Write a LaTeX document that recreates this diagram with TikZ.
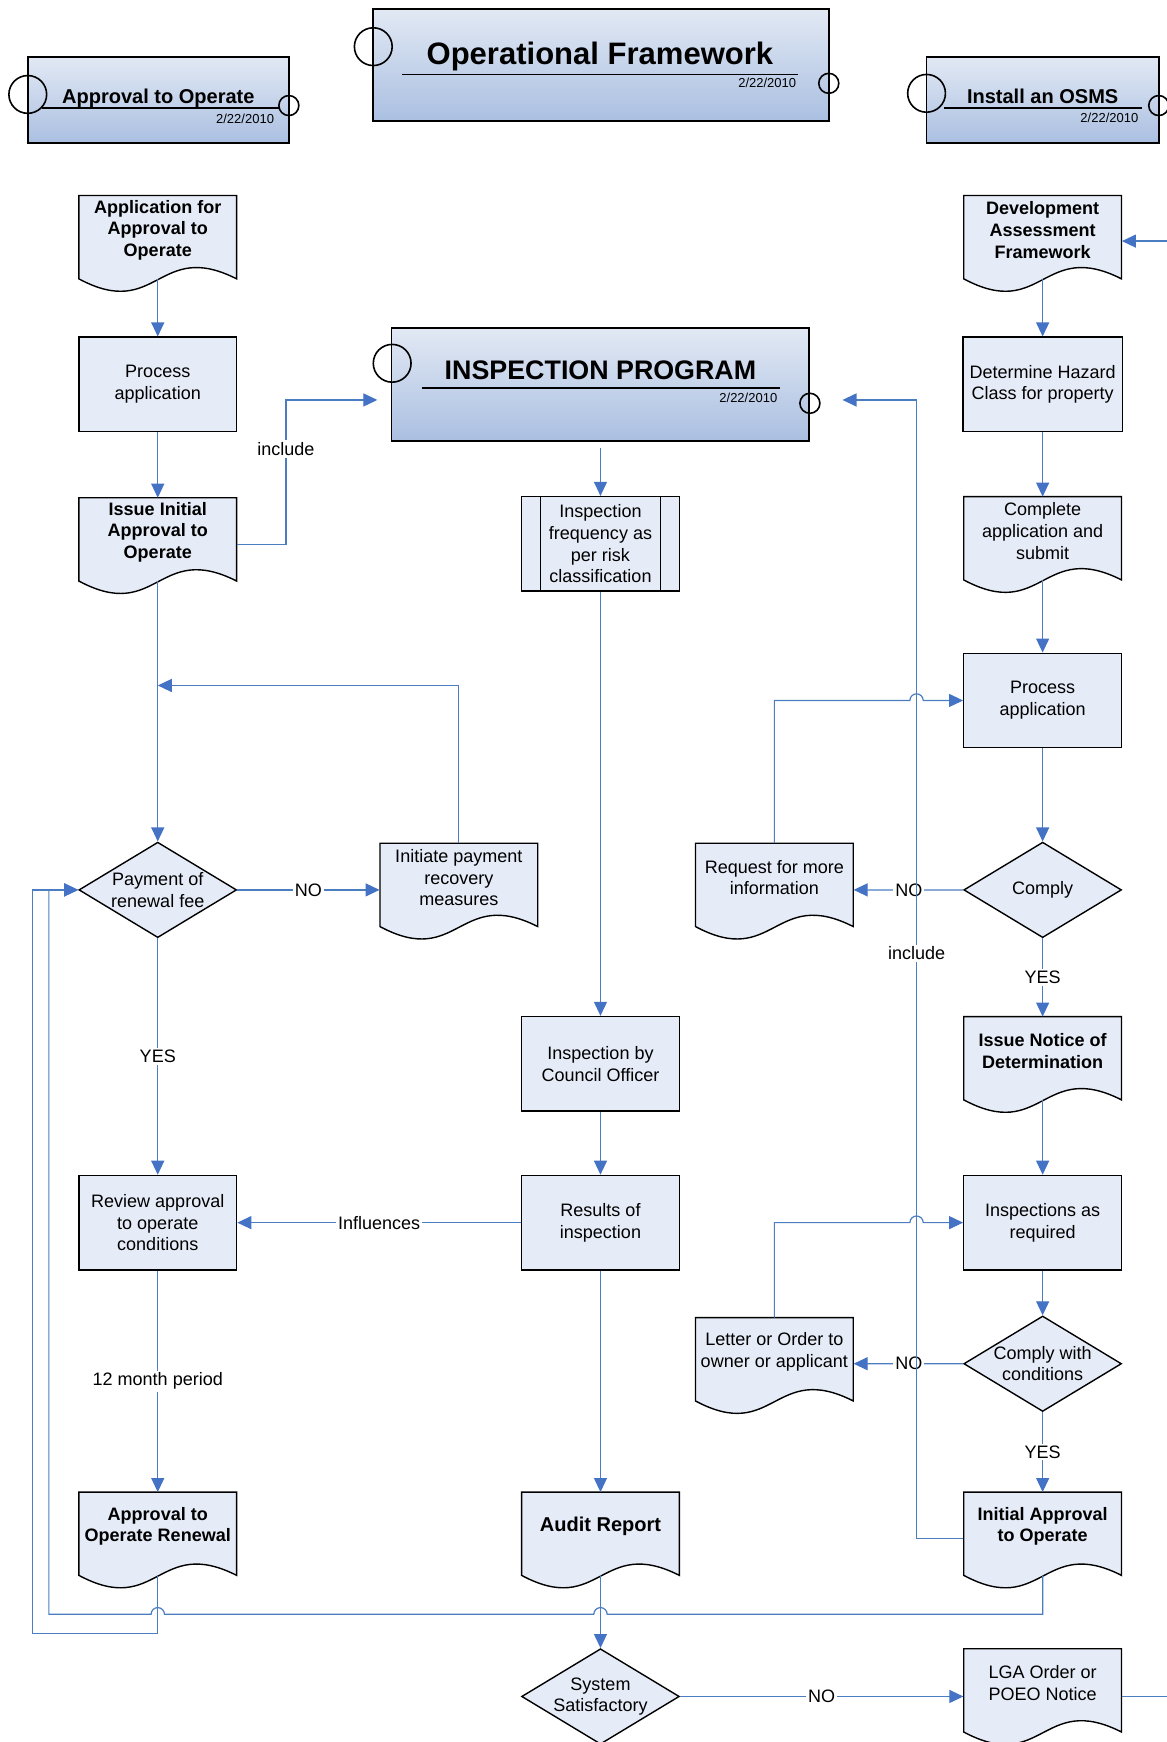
\documentclass[tikz,border=0pt]{standalone}
\usepackage{fontspec}
\setmainfont{Liberation Sans}
\usetikzlibrary{calc,arrows.meta,shapes.geometric}

\definecolor{flowblue}{RGB}{74,126,193}
\definecolor{tipblue}{RGB}{68,114,196}
\definecolor{boxfill}{RGB}{230,236,247}
\definecolor{hdrtop}{RGB}{226,233,244}
\definecolor{hdrbot}{RGB}{170,191,225}

% document shape: wavy bottom, text node on top
\newcommand{\docnode}[4][]{%
	\filldraw[doc_line] ($#3+(-71,-31)$) -- ($#3+(71,-31)$) -- ($#3+(71,44)$)
		.. controls ($#3+(0,8)$) and ($#3+(0,82)$) .. ($#3+(-71,44)$) -- cycle;
	\node[doc_text,#1] (#2) at #3 {#4};
	\coordinate (#2-t) at ($#3+(0,-31)$);
	\coordinate (#2-w) at ($#3+(0,44)$);
}

\begin{document}
\begin{tikzpicture}[x=0.555pt, y=-0.555pt,
	proc_box/.style={rectangle, draw=black, line width=0.7pt, fill=boxfill, minimum width=78.8pt, minimum height=47.2pt, align=center, font=\fontsize{9}{10.8}\selectfont},
	pre_box/.style={proc_box, path picture={
		\draw[line width=0.7pt] ([xshift=9.4pt]path picture bounding box.north west) -- ([xshift=9.4pt]path picture bounding box.south west);
		\draw[line width=0.7pt] ([xshift=-9.4pt]path picture bounding box.north east) -- ([xshift=-9.4pt]path picture bounding box.south east);}},
	doc_line/.style={draw=black, line width=0.7pt, fill=boxfill},
	doc_text/.style={rectangle, minimum width=78.8pt, inner sep=1pt, align=center, font=\fontsize{9}{10.8}\selectfont},
	doc_bold/.style={font=\fontsize{9}{10.8}\selectfont\bfseries},
	doc_big/.style={font=\fontsize{10}{12}\selectfont\bfseries},
	decision_node/.style={diamond, draw=black, line width=0.7pt, fill=boxfill, minimum width=78.8pt, minimum height=47.7pt, inner sep=0pt},
	dec_text/.style={align=center, inner sep=0pt, font=\fontsize{9}{10.8}\selectfont},
	hdr_box/.style={rectangle, draw=black, line width=0.9pt, top color=hdrtop, bottom color=hdrbot},
	hdr_ring/.style={draw=black, line width=0.8pt},
	hdr_title/.style={anchor=base, inner sep=0pt, font=\fontsize{10}{12}\selectfont\bfseries},
	hdr_date/.style={anchor=base east, inner sep=0pt, font=\fontsize{6.5}{7}\selectfont},
	conn/.style={draw=flowblue, line width=0.6pt, -{Triangle[length=7pt,width=6.5pt,color=tipblue]}},
	wire/.style={draw=flowblue, line width=0.6pt},
	lbl/.style={fill=white, inner sep=1pt, font=\fontsize{9}{10.8}\selectfont}]

	\useasboundingbox (0,0) rectangle (1050,1568);

	% header boxes
	\node[hdr_box, minimum width=130.4pt, minimum height=43.3pt] (hdrapp) at (142.5,90) {};
	\draw[hdr_ring] (25,85) circle[radius=17] (260,95) circle[radius=9];
	\draw[line width=0.8pt] (38,97) -- (251,97);
	\node[hdr_title] (hdrapp-t) at (142.5,93) {Approval to Operate};
	\node[hdr_date] (hdrapp-d) at (247,111) {2/22/2010};

	\node[hdr_box, minimum width=227.6pt, minimum height=56.1pt] (hdrops) at (541,58.5) {};
	\draw[hdr_ring] (336,42) circle[radius=17] (746,75) circle[radius=9];
	\draw[line width=0.8pt] (362,67) -- (718,67);
	\node[hdr_title, font=\fontsize{15.5}{18}\selectfont\bfseries] (hdrops-t) at (540,58) {Operational Framework};
	\node[hdr_date] (hdrops-d) at (717,79) {2/22/2010};

	\node[hdr_box, minimum width=116pt, minimum height=43.3pt] (hdrosms) at (938.5,90) {};
	\draw[hdr_ring] (834,84) circle[radius=17] (1043,95) circle[radius=9];
	\draw[line width=0.8pt] (850,97) -- (1028,97);
	\node[hdr_title] (hdrosms-t) at (938.5,93) {Install an OSMS};
	\node[hdr_date] (hdrosms-d) at (1025,110) {2/22/2010};

	\node[hdr_box, minimum width=208.7pt, minimum height=56.6pt] (hdrinsp) at (540.5,346) {};
	\draw[hdr_ring] (353,327) circle[radius=17] (729,363) circle[radius=9];
	\draw[line width=0.8pt] (380,349) -- (702,349);
	\node[hdr_title, font=\fontsize{13.4}{16}\selectfont\bfseries] (hdrinsp-t) at (540.5,342) {INSPECTION PROGRAM};
	\node[hdr_date] (hdrinsp-d) at (700,362) {2/22/2010};

	% left column
	\docnode[doc_bold]{appreq}{(142,207)}{Application for\\Approval to\\Operate}
	\node[proc_box] (procapp) at (142,346) {Process\\application};
	\docnode[doc_bold]{issueinit}{(142,479)}{Issue Initial\\Approval to\\Operate}
	\node[decision_node, label={[dec_text]center:Payment of\\renewal fee}] (payfee) at (142,801) {};
	\docnode{recovery}{(413,790)}{Initiate payment\\recovery\\measures}
	\node[proc_box] (reviewcond) at (142,1100.5) {Review approval\\to operate\\conditions};
	\docnode[doc_bold]{renewal}{(142,1374)}{Approval to\\Operate Renewal}

	% middle column
	\node[pre_box] (inspfreq) at (540.5,489.5) {Inspection\\frequency as\\per risk\\classification};
	\node[proc_box] (inspofficer) at (540.5,957.5) {Inspection by\\Council Officer};
	\node[proc_box] (results) at (540.5,1100.5) {Results of\\inspection};
	\docnode[doc_big]{audit}{(540.5,1374)}{Audit Report}
	\node[decision_node, label={[dec_text]center:System\\Satisfactory}] (syssat) at (540.5,1527) {};

	% right column
	\docnode[doc_bold]{devassess}{(938.5,207)}{Development\\Assessment\\Framework}
	\node[proc_box] (hazard) at (938.5,346) {Determine Hazard\\Class for property};
	\docnode{complete}{(938.5,478)}{Complete\\application and\\submit}
	\node[proc_box] (procapp2) at (938.5,630.5) {Process\\application};
	\node[decision_node, label={[dec_text]center:Comply}] (comply) at (938.5,801) {};
	\docnode{moreinfo}{(697,790)}{Request for more\\information}
	\docnode[doc_bold]{notice}{(938.5,946)}{Issue Notice of\\Determination}
	\node[proc_box] (inspreq) at (938.5,1100.5) {Inspections as\\required};
	\node[decision_node, label={[dec_text]center:Comply with\\conditions}] (complycond) at (938.5,1227.5) {};
	\docnode{letter}{(697,1217)}{Letter or Order to\\owner or applicant}
	\docnode[doc_bold]{initapproval}{(938.5,1374)}{Initial Approval\\to Operate}
	\docnode{lgaorder}{(938.5,1515)}{LGA Order or\\POEO Notice}

	% loose ends
	\coordinate (payback) at (142,617);
	\coordinate (jx) at (825,360);
	\coordinate (bus) at (44,1453);
	\coordinate (busout) at (29,1470);
	\coordinate (inr) at (1050,217);
	\coordinate (outr) at (1050,1527);

	% straight connectors
	\path[every edge/.style={conn}]
	(appreq-w) edge (procapp)
	(procapp) edge (issueinit-t)
	(issueinit-w) edge (payfee)
	(payfee.east) edge node[lbl] {NO} (payfee.east -| recovery.west)
	(payfee) edge node[lbl] {YES} (reviewcond)
	(reviewcond) edge node[lbl] {12 month period} (renewal-t)
	(results) edge node[lbl] {Influences} (reviewcond)
	($(hdrinsp.south)+(0,5)$) edge (inspfreq)
	(inspfreq) edge (inspofficer)
	(inspofficer) edge (results)
	(results) edge (audit-t)
	(audit-w) edge (syssat)
	(syssat.east) edge node[lbl] {NO} (syssat.east -| lgaorder.west)
	(inr) edge (inr -| devassess.east)
	(devassess-w) edge (hazard)
	(hazard) edge (complete-t)
	(complete-w) edge (procapp2)
	(procapp2) edge (comply)
	(comply) edge node[lbl] {YES} (notice-t)
	(notice-w) edge (inspreq)
	(inspreq) edge (complycond)
	(complycond) edge node[lbl] {YES} (initapproval-t);
	\draw[wire] (syssat.east -| lgaorder.east) -- (outr);

	% bent connectors
	\draw[conn] ($(issueinit.east)+(0,11)$) -- ++(44,0) |- node[lbl, pos=0.33] {include} ($(hdrinsp.west)+(-12,14)$);
	\draw[conn] (recovery-t) |- (payback);
	\draw[conn] (comply.west) -- ($(comply.west -| jx)+(6,0)$) arc[start angle=0, end angle=-180, radius=6]
		-- node[lbl, pos=0.02] {NO} (comply.west -| moreinfo.east);
	\draw[conn] (moreinfo-t) |- ($(procapp2 -| jx)+(-6,0)$) arc[start angle=180, end angle=360, radius=6] -- (procapp2.west);
	\draw[conn] (complycond.west) -- ($(complycond.west -| jx)+(6,0)$) arc[start angle=0, end angle=-180, radius=6]
		-- node[lbl, pos=0.02] {NO} (complycond.west -| letter.east);
	\draw[conn] (letter-t) |- ($(inspreq -| jx)+(-6,0)$) arc[start angle=180, end angle=360, radius=6] -- (inspreq.west);
	\draw[conn] ($(initapproval.west)+(0,11)$) -| node[lbl, pos=0.757] {include} (jx) -- ($(hdrinsp.east)+(29,14)$);

	% loops back to the renewal fee
	\draw[conn] (initapproval-w) |- ($(audit-w |- bus)+(6,0)$) arc[start angle=0, end angle=-180, radius=6]
		-- ($(renewal-w |- bus)+(6,0)$) arc[start angle=0, end angle=-180, radius=6] -- (bus) |- (payfee.west);
	\draw[conn] (renewal-w) |- (busout) |- (payfee.west);

\end{tikzpicture}
\end{document}
